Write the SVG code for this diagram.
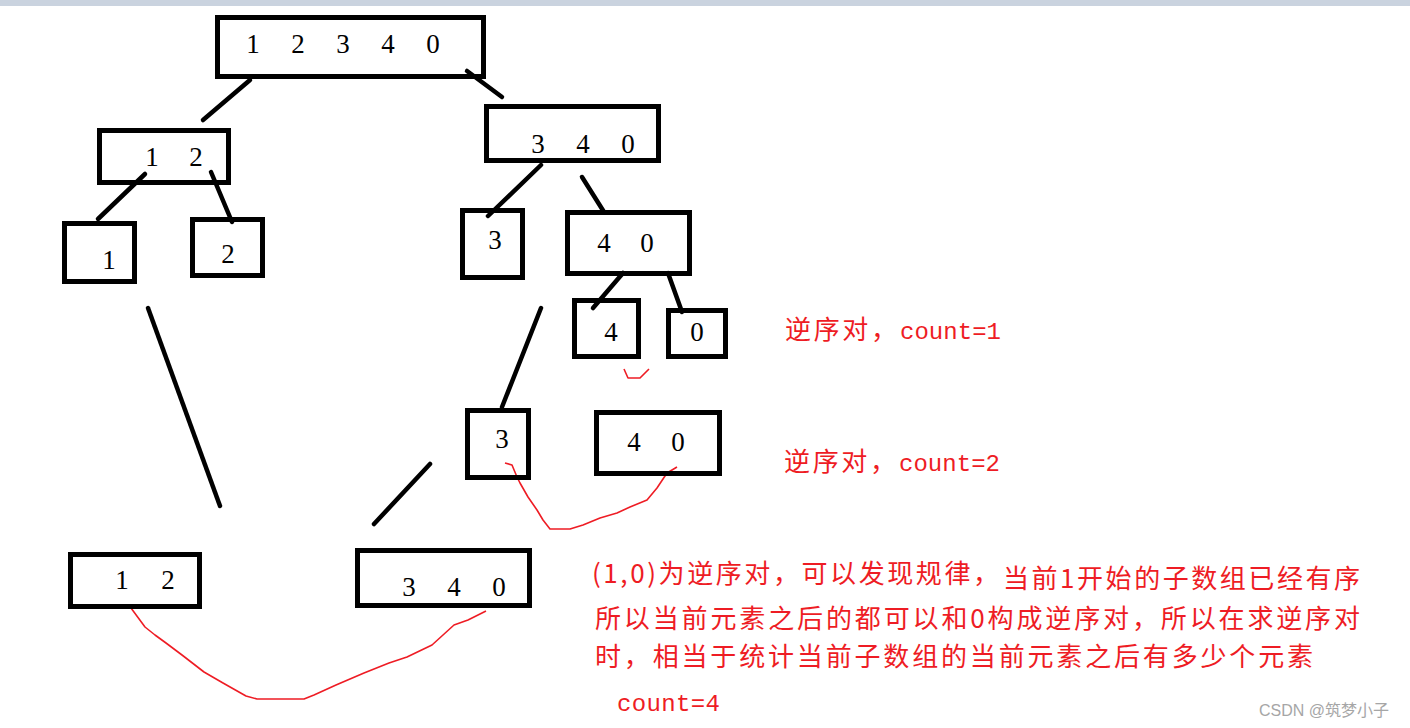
<svg xmlns="http://www.w3.org/2000/svg" width="1410" height="728" viewBox="0 0 1410 728">
<style>
.box{fill:none;stroke:#000;stroke-width:5}
.dg{font-family:"Liberation Serif",serif;font-size:27px;fill:#000;text-anchor:middle}
.ln{stroke:#000;stroke-width:4.5;stroke-linecap:round;fill:none}
.rc{stroke:#ee1c24;stroke-width:1.6;fill:none;stroke-linejoin:round}
.cj{font-family:"Noto Sans CJK SC","Noto Sans CJK JP",sans-serif;font-size:26px;fill:#ee1c24}
.mo{font-family:"Liberation Mono",monospace;font-size:24px;fill:#ee1c24}
.wm{font-family:"Liberation Sans","Noto Sans CJK SC",sans-serif;font-size:16px;fill:#a6a6a6}
</style>
<rect x="0" y="0" width="1410" height="6" fill="#cad3df"/>
<rect x="0" y="6" width="1410" height="728" fill="#fff"/>
<g id="connectors">
<line class="ln" x1="250" y1="80" x2="203" y2="120"/>
<line class="ln" x1="467" y1="71" x2="502" y2="97"/>
<line class="ln" x1="145" y1="174" x2="98" y2="219"/>
<line class="ln" x1="211" y1="172" x2="232" y2="222"/>
<line class="ln" x1="541" y1="165" x2="488" y2="216"/>
<line class="ln" x1="582" y1="177" x2="604" y2="212"/>
<line class="ln" x1="623" y1="273" x2="593" y2="308"/>
<line class="ln" x1="668" y1="273" x2="682" y2="312"/>
<line class="ln" x1="541" y1="308" x2="502" y2="407"/>
<line class="ln" x1="148" y1="308" x2="220" y2="506"/>
<line class="ln" x1="430" y1="464" x2="374" y2="524"/>
<polyline class="rc" points="624,369 628,378 640,378 649,369"/>
<polyline class="rc" points="505,463 512,465 517,477 520,483 528,497 537,510 543,520 550,529 570,529 583,525 600,518 617,513 630,507 647,500 657,488 667,473 677,467"/>
<polyline class="rc" points="131,608 145,627 155,635 166,643 182,655 204,672 223,683 246,696 257,699 304,699 314,695 336,685 364,673 389,663 407,657 432,645 443,635 454,625 468,620 486,611"/>
</g>
<g id="n-root"><rect class="box" x="217.5" y="17.5" width="266" height="59"/><text class="dg" x="253 298 343 388 433" y="53">12340</text></g>
<g id="n-12"><rect class="box" x="99.5" y="130.5" width="129" height="52"/><text class="dg" x="152 196" y="166">12</text></g>
<g id="n-340"><rect class="box" x="486.5" y="106.5" width="172" height="54"/><text class="dg" x="538 583 628" y="153">340</text></g>
<g id="n-1"><rect class="box" x="64.5" y="223.5" width="70" height="58"/><text class="dg" x="109" y="269">1</text></g>
<g id="n-2"><rect class="box" x="192.5" y="219.5" width="70" height="56"/><text class="dg" x="228" y="263">2</text></g>
<g id="n-3"><rect class="box" x="462.5" y="210.5" width="60" height="67"/><text class="dg" x="495" y="249">3</text></g>
<g id="n-40"><rect class="box" x="567.5" y="212.5" width="122" height="61"/><text class="dg" x="604 647" y="252">40</text></g>
<g id="n-4"><rect class="box" x="574.5" y="300.5" width="64" height="56"/><text class="dg" x="611" y="341">4</text></g>
<g id="n-0"><rect class="box" x="668.5" y="310.5" width="57" height="46"/><text class="dg" x="697" y="341">0</text></g>
<g id="n-3b"><rect class="box" x="467.5" y="410.5" width="61" height="67"/><text class="dg" x="502" y="448">3</text></g>
<g id="n-40b"><rect class="box" x="596.5" y="412.5" width="123" height="61"/><text class="dg" x="634 678" y="451">40</text></g>
<g id="n-12b"><rect class="box" x="70.5" y="554.5" width="129" height="52"/><text class="dg" x="122 168" y="589">12</text></g>
<g id="n-340b"><rect class="box" x="357.5" y="550.5" width="172" height="55"/><text class="dg" x="409 454 499" y="596">340</text></g>
<g id="notes">
<text class="cj" x="785" y="339" textLength="112" lengthAdjust="spacing">逆序对，</text>
<text class="mo" x="900" y="339" textLength="101" lengthAdjust="spacing">count=1</text>
<text class="cj" x="784" y="471" textLength="112" lengthAdjust="spacing">逆序对，</text>
<text class="mo" x="899" y="471" textLength="101" lengthAdjust="spacing">count=2</text>
<text class="cj" x="592" y="583" textLength="407" lengthAdjust="spacing">(1,0)为逆序对，可以发现规律，</text>
<text class="cj" x="1003" y="588" textLength="357" lengthAdjust="spacing">当前1开始的子数组已经有序</text>
<text class="cj" x="595" y="628" textLength="765" lengthAdjust="spacing">所以当前元素之后的都可以和0构成逆序对，所以在求逆序对</text>
<text class="cj" x="595" y="666" textLength="718" lengthAdjust="spacing">时，相当于统计当前子数组的当前元素之后有多少个元素</text>
<text class="mo" x="617" y="711" textLength="103" lengthAdjust="spacing">count=4</text>
<text class="wm" x="1259" y="716">CSDN @筑梦小子</text>
</g>
</svg>
